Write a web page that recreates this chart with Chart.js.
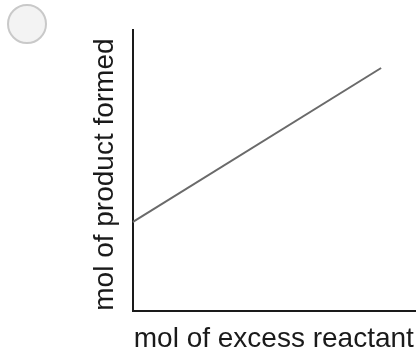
<!DOCTYPE html>
<html>
<head>
<meta charset="utf-8">
<script src="https://cdn.jsdelivr.net/npm/chart.js@4"></script>
<style>
  html, body { margin: 0; padding: 0; background: #fff; }
  #wrap { position: relative; width: 419px; height: 356px; }
  #radio {
    position: absolute; left: 7px; top: 4px; width: 40px; height: 40px;
    box-sizing: border-box; border: 2px solid #c9c9c9; border-radius: 50%;
    background: #f3f3f3;
  }
</style>
</head>
<body>
<div id="wrap">
  <canvas id="myChart" width="419" height="356"></canvas>
  <div id="radio"></div>
</div>
<script>
// values (axes run 0..100, no ticks shown)
var xValues = [0, 88];
var yValues = [31.7, 86.5];
var xTitle = 'mol of excess reactant';
var yTitle = 'mol of product formed ';

var points = [];
xValues.forEach(function (x, i) {
    points.push({ x: x, y: yValues[i] });
});

var titleFont = { family: "'Liberation Sans', Arial, sans-serif", size: 28 };

var ctx = document.getElementById('myChart').getContext('2d');
var myChart = new Chart(ctx, {
    type: 'line',
    data: {
        datasets: [{
            data: points,
            borderColor: '#6a6a6a',
            borderWidth: 2,
            pointRadius: 0,
            fill: false,
            tension: 0
        }]
    },
    options: {
        responsive: false,
        animation: false,
        layout: { padding: { left: 88, top: 30, right: 4, bottom: 0 } },
        plugins: { legend: { display: false }, tooltip: { enabled: false } },
        scales: {
            x: {
                type: 'linear', min: 0, max: 100,
                grid: { display: false, drawTicks: false },
                ticks: { display: false },
                border: { display: true, color: '#1a1a1a', width: 2 },
                title: { display: true, text: xTitle, color: '#1a1a1a', font: titleFont, padding: { top: 11, bottom: 0 } }
            },
            y: {
                type: 'linear', min: 0, max: 100,
                grid: { display: false, drawTicks: false },
                ticks: { display: false },
                border: { display: true, color: '#1a1a1a', width: 2 },
                title: { display: true, text: yTitle, color: '#1a1a1a', font: titleFont, padding: { top: 0, bottom: 11 } }
            }
        }
    }
});
</script>
</body>
</html>
